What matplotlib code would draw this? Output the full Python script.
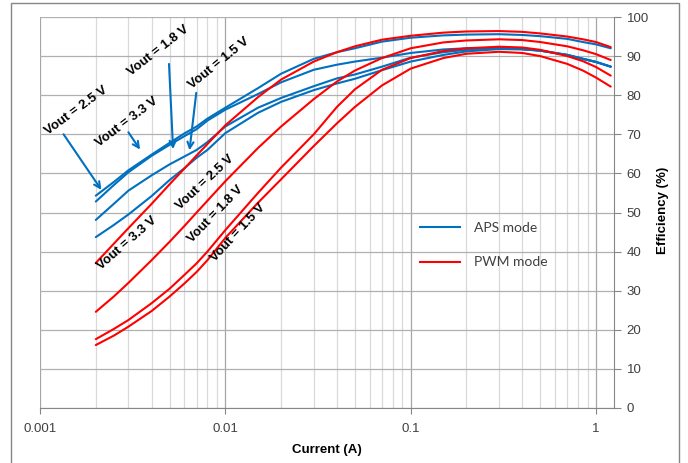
import matplotlib
matplotlib.use("Agg")
import matplotlib.pyplot as plt
from matplotlib.patches import Rectangle
from matplotlib.ticker import FixedLocator, NullFormatter

# load current (A)
current = [0.002, 0.0025, 0.003, 0.004, 0.005, 0.006, 0.007, 0.008, 0.01, 0.015,
           0.02, 0.03, 0.04, 0.05, 0.07, 0.1, 0.15, 0.2, 0.3, 0.4, 0.5, 0.7,
           0.85, 1.0, 1.2]

# APS mode efficiency (%)
aps_a = [54.3, 57.8, 60.8, 64.8, 67.8, 70.2, 72.0, 74.0, 76.8, 81.8, 85.5, 89.3,
         91.0, 92.0, 93.7, 94.7, 95.3, 95.5, 95.6, 95.4, 95.1, 94.4, 93.6, 93.0, 92.0]
aps_b = [52.8, 57.0, 60.3, 64.5, 67.3, 69.5, 71.3, 73.5, 76.3, 80.3, 83.3, 86.5,
         87.8, 88.6, 89.6, 90.8, 91.7, 92.0, 92.1, 91.8, 91.4, 90.3, 89.3, 88.5, 87.3]
aps_c = [48.1, 52.2, 55.6, 59.5, 62.3, 64.3, 66.0, 68.0, 72.0, 76.8, 79.3, 82.3,
         84.3, 85.3, 87.3, 89.6, 91.0, 91.6, 92.0, 91.8, 91.4, 90.3, 89.3, 88.5, 87.3]
aps_d = [43.7, 46.8, 49.5, 54.2, 58.3, 61.3, 64.0, 66.0, 70.3, 75.5, 78.3, 81.3,
         83.0, 84.2, 86.4, 88.6, 90.3, 91.2, 91.8, 91.7, 91.4, 90.3, 89.3, 88.5, 87.3]

# PWM mode efficiency (%)
pwm_33 = [37.1, 42.0, 46.0, 52.2, 57.2, 61.2, 64.6, 67.5, 72.3, 79.5, 84.0, 88.6,
          91.0, 92.5, 94.2, 95.2, 96.0, 96.3, 96.4, 96.2, 95.8, 95.0, 94.3, 93.6, 92.3]
pwm_25 = [24.6, 28.5, 32.0, 37.8, 42.5, 46.5, 50.0, 53.0, 58.0, 66.5, 72.0, 79.0,
          83.5, 86.3, 89.5, 92.0, 93.5, 94.0, 94.3, 94.1, 93.6, 92.5, 91.5, 90.5, 89.0]
pwm_18 = [17.6, 20.2, 22.5, 26.8, 30.5, 34.0, 37.0, 40.0, 45.5, 55.0, 61.5, 70.0,
          77.0, 81.5, 86.5, 89.5, 91.3, 92.0, 92.4, 92.2, 91.6, 90.0, 88.7, 87.2, 85.0]
pwm_15 = [16.1, 18.5, 20.8, 24.8, 28.5, 31.8, 34.8, 37.8, 43.5, 52.5, 58.5, 67.0,
          72.8, 77.0, 82.5, 86.8, 89.5, 90.6, 91.1, 90.8, 90.0, 88.0, 86.3, 84.5, 82.2]

blue = "#0070c0"
red = "#ff0000"

plt.rcParams["font.family"] = ["Liberation Sans", "DejaVu Sans"]

fig = plt.figure(figsize=(6.88, 4.63), dpi=100)
ax = fig.add_axes([40/688, 1-408/463, 574/688, 391/463])

for ys in [aps_a, aps_b, aps_c, aps_d]:
    ax.plot(current, ys, color=blue, lw=1.5, solid_capstyle="round")
for ys in [pwm_33, pwm_25, pwm_18, pwm_15]:
    ax.plot(current, ys, color=red, lw=1.5, solid_capstyle="round")

ax.set_xscale("log")
ax.set_xlim(0.001, 1.25)
ax.set_ylim(0, 100)

# axes look (Excel style)
ax.yaxis.tick_right()
ax.yaxis.set_label_position("right")
ax.set_yticks(range(0, 101, 10))
ax.set_xticks([0.001, 0.01, 0.1, 1])
ax.set_xticklabels(["0.001", "0.01", "0.1", "1"])
minors = [m * 10.0**e for e in range(-3, 1) for m in range(2, 10)]
minors = [v for v in minors if v < 1.25]
ax.xaxis.set_minor_locator(FixedLocator(minors))
ax.xaxis.set_minor_formatter(NullFormatter())
ax.tick_params(axis="x", which="minor", length=0)
ax.tick_params(axis="x", which="major", length=4, color="#868686",
               labelsize=9.5, labelcolor="#404040", pad=7)
ax.tick_params(axis="y", which="major", length=5, color="#868686",
               labelsize=9.5, labelcolor="#404040", pad=4)

ax.grid(True, which="major", axis="y", color="#b0b0b0", lw=0.9)
ax.grid(True, which="major", axis="x", color="#a6a6a6", lw=0.9)
ax.grid(True, which="minor", axis="x", color="#d9d9d9", lw=0.9)
ax.set_axisbelow(True)

for s in ["top", "left"]:
    ax.spines[s].set_visible(False)
ax.spines["bottom"].set_color("#868686")
ax.spines["right"].set_color("#868686")

ax.set_xlabel("Current (A)", fontsize=9.5, fontweight="bold", labelpad=6)
ax.set_ylabel("Efficiency (%)", fontsize=9.5, fontweight="bold")
ax.yaxis.set_label_coords(1.075, 0.506)

# APS labels with arrows
arr = dict(arrowstyle="->", color=blue, lw=1.5, mutation_scale=11)
ax.annotate("", xy=(0.002186, 55.2), xytext=(0.001314, 70.6), arrowprops=arr)
ax.annotate("", xy=(0.003534, 65.5), xytext=(0.002942, 71.1), arrowprops=arr)
ax.annotate("", xy=(0.005232, 65.5), xytext=(0.004958, 88.7), arrowprops=arr)
ax.annotate("", xy=(0.006381, 65.2), xytext=(0.006995, 81.3), arrowprops=arr)

lab = dict(fontsize=9.5, fontweight="bold", ha="center", va="center",
           rotation_mode="anchor")
ax.text(0.00156, 76.1, "Vout = 2.5 V", rotation=36, **lab)
ax.text(0.00294, 73.0, "Vout = 3.3 V", rotation=37, **lab)
ax.text(0.004353, 91.4, "Vout = 1.8 V", rotation=38, **lab)
ax.text(0.009226, 88.1, "Vout = 1.5 V", rotation=39, **lab)

# PWM labels
ax.text(0.00296, 42.2, "Vout = 3.3 V", rotation=41, **lab)
ax.text(0.0078, 57.7, "Vout = 2.5 V", rotation=43, **lab)
ax.text(0.00889, 49.5, "Vout = 1.8 V", rotation=46, **lab)
ax.text(0.01168, 44.9, "Vout = 1.5 V", rotation=47, **lab)

ax.plot([], [], color=blue, lw=1.5, label="APS mode")
ax.plot([], [], color=red, lw=1.5, label="PWM mode")
handles, labels = ax.get_legend_handles_labels()
leg = ax.legend(handles[-2:], labels[-2:], loc="upper left",
                bbox_to_anchor=(0.662, 0.475), frameon=False, borderpad=0,
                borderaxespad=0, handlelength=2.9, handletextpad=1.0,
                labelspacing=1.6, prop={"family": "Lato", "size": 10})
for t in leg.get_texts():
    t.set_color("#404040")

fig.patches.append(Rectangle((11/688, -0.05), 668/688, 1.05 - 3/463,
                             transform=fig.transFigure, fill=False,
                             edgecolor="#868686", lw=1))

fig.savefig("out.png", dpi=100)
